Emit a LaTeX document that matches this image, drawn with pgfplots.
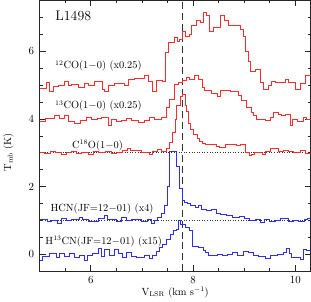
\documentclass[border=0pt]{standalone}
\usepackage{pgfplots}
\pgfplotsset{compat=1.18}
\definecolor{sred}{RGB}{250,45,45}
\definecolor{sblue}{RGB}{45,45,245}
\begin{document}
\begin{tikzpicture}
\begin{axis}[
  scale only axis, width=272.5bp, height=272.5bp,
  xmin=5, xmax=10.3, ymin=-0.5, ymax=7.5,
  xtick={6,8,10}, ytick={0,2,4,6},
  minor xtick={5,5.5,...,10.5},
  minor ytick={-0.5,0,...,7.5},
  tick align=inside, tick pos=both,
  major tick length=6bp, minor tick length=3bp,
  axis line style={line width=0.8pt, black!85},
  every tick/.style={black!85, line width=0.6pt},
  tick label style={font=\fontsize{10.5}{12}\selectfont},
  xticklabel style={yshift=-2bp},
  yticklabel style={xshift=-2bp},
  xlabel={V$_{\rm LSR}$ (km s$^{-1}$)},
  ylabel={T$_{\rm mb}$ (K)},
  label style={font=\fontsize{10.5}{12}\selectfont},
  xlabel style={at={(axis description cs:0.5,0)}, anchor=center, yshift=-21bp},
  ylabel style={at={(axis description cs:-0.115,0.44)}, anchor=center, rotate=0},
  clip=true,
]
% reference lines
\addplot[black!80, dashed, dash pattern=on 7bp off 4bp, line width=0.7pt] coordinates {(7.8,-0.5) (7.8,7.5)};
\addplot[black!80, dotted, line width=0.6pt] coordinates {(5,3) (10.3,3)};
\addplot[black!80, dotted, line width=0.6pt] coordinates {(5,1) (10.3,1)};
% 12CO
\addplot[const plot, sred, line width=0.7pt] coordinates {
(5.00,4.90)(5.13,5.08)(5.19,4.82)(5.27,4.95)(5.37,5.00)(5.48,5.12)(5.56,4.98)(5.62,5.02)(5.75,4.94)(5.87,5.06)(5.96,5.00)(6.06,5.12)(6.22,4.88)(6.27,4.80)(6.35,5.00)(6.47,5.04)(6.66,5.00)(6.74,5.18)(6.85,5.20)(7.05,5.28)(7.12,5.10)(7.20,4.80)(7.28,5.15)(7.40,5.10)(7.45,5.97)(7.51,6.26)(7.64,6.40)(7.70,6.30)(7.74,6.35)(7.80,6.60)(7.85,6.45)(7.92,6.50)(7.97,6.75)(8.06,6.90)(8.15,6.85)(8.21,7.15)(8.27,7.05)(8.31,6.60)(8.40,6.70)(8.54,7.05)(8.62,6.90)(8.69,6.75)(8.93,6.65)(8.98,6.45)(9.02,6.00)(9.08,5.70)(9.12,5.40)(9.22,5.47)(9.31,5.08)(9.37,4.88)(9.47,5.00)(9.53,5.12)(9.62,5.08)(9.80,5.18)(9.86,5.08)(10.01,4.88)(10.09,5.05)(10.20,5.30)(10.30,5.30)};
% 13CO
\addplot[const plot, sred, line width=0.7pt] coordinates {
(5.00,3.92)(5.11,4.02)(5.28,4.10)(5.38,4.02)(5.48,4.12)(5.57,3.94)(5.67,3.88)(5.79,3.96)(5.92,4.06)(6.02,4.00)(6.12,4.03)(6.21,4.05)(6.35,3.80)(6.41,4.00)(6.50,3.92)(6.60,3.97)(6.70,4.02)(6.79,3.97)(6.93,3.90)(7.05,3.97)(7.14,4.05)(7.24,4.00)(7.38,4.05)(7.47,4.34)(7.53,4.58)(7.63,5.03)(7.71,5.09)(7.80,5.15)(7.86,5.23)(7.92,5.18)(8.02,5.30)(8.11,5.18)(8.19,4.94)(8.23,4.84)(8.35,4.76)(8.48,4.68)(8.54,4.84)(8.64,4.83)(8.73,4.80)(8.89,4.70)(8.95,4.55)(9.04,4.33)(9.14,4.20)(9.18,4.10)(9.24,4.00)(9.41,3.97)(9.51,4.05)(9.57,4.20)(9.66,4.15)(9.72,4.10)(9.80,4.15)(9.90,3.82)(9.95,4.00)(10.05,3.94)(10.15,4.06)(10.22,4.00)(10.30,4.00)};
% C18O
\addplot[const plot, sred, line width=0.7pt] coordinates {
(5.00,3.02)(5.10,2.98)(5.20,3.04)(5.30,3.00)(5.42,2.96)(5.52,3.02)(5.62,3.05)(5.72,2.98)(5.82,3.02)(5.95,2.96)(6.05,3.03)(6.15,3.00)(6.28,3.05)(6.40,2.98)(6.50,3.02)(6.62,3.06)(6.72,3.12)(6.78,3.08)(6.98,3.00)(7.14,2.95)(7.20,3.04)(7.30,3.10)(7.38,3.04)(7.47,3.12)(7.53,3.30)(7.59,3.60)(7.65,4.00)(7.68,4.40)(7.76,4.68)(7.80,4.74)(7.84,4.40)(7.86,4.22)(7.90,3.88)(7.95,3.70)(8.01,3.55)(8.08,3.42)(8.12,3.34)(8.18,3.29)(8.25,3.26)(8.45,3.20)(8.52,3.15)(8.64,3.24)(8.73,3.26)(8.84,3.22)(8.93,3.24)(9.02,3.00)(9.10,2.93)(9.14,2.96)(9.20,3.00)(9.35,2.95)(9.41,3.04)(9.51,3.12)(9.66,3.05)(9.76,3.08)(9.86,3.05)(9.96,3.00)(10.10,3.06)(10.20,2.98)(10.30,2.98)};
% HCN
\addplot[const plot, sblue, line width=0.7pt] coordinates {
(5.00,1.03)(5.16,0.97)(5.23,1.02)(5.35,0.93)(5.42,1.06)(5.52,1.00)(5.62,1.03)(5.77,1.10)(5.83,1.03)(5.96,0.99)(6.14,1.06)(6.27,1.15)(6.33,1.03)(6.50,0.99)(6.60,1.09)(6.70,1.00)(6.79,1.03)(6.98,0.99)(7.10,1.03)(7.18,0.92)(7.24,1.02)(7.30,1.10)(7.38,1.20)(7.44,1.44)(7.50,2.00)(7.54,3.03)(7.67,2.60)(7.73,1.94)(7.79,1.60)(7.83,1.55)(7.89,1.50)(7.95,1.44)(8.05,1.40)(8.10,1.44)(8.17,1.34)(8.26,1.30)(8.36,1.33)(8.45,1.22)(8.54,1.18)(8.66,1.14)(8.76,1.10)(8.91,1.12)(9.01,1.05)(9.11,1.00)(9.21,1.03)(9.31,0.96)(9.40,1.03)(9.50,0.97)(9.61,1.01)(9.71,1.05)(9.86,0.98)(9.96,1.00)(10.06,0.98)(10.18,1.03)(10.24,1.06)(10.30,1.06)};
% H13CN
\addplot[const plot, sblue, line width=0.7pt] coordinates {
(5.00,-0.18)(5.06,-0.06)(5.19,0.02)(5.33,-0.08)(5.39,0.03)(5.48,-0.06)(5.58,0.03)(5.68,-0.09)(5.77,-0.04)(5.87,-0.18)(5.93,-0.04)(6.04,0.03)(6.14,0.18)(6.21,-0.06)(6.27,0.14)(6.37,-0.02)(6.47,0.14)(6.53,0.03)(6.62,-0.08)(6.70,0.05)(6.80,-0.06)(6.90,-0.10)(7.05,-0.04)(7.14,-0.13)(7.20,-0.02)(7.28,0.10)(7.34,0.20)(7.40,0.30)(7.47,0.45)(7.55,0.60)(7.61,0.72)(7.67,0.75)(7.71,1.00)(7.76,0.88)(7.84,0.80)(7.92,0.72)(7.98,0.25)(8.11,0.20)(8.21,0.12)(8.25,0.06)(8.29,-0.03)(8.48,-0.01)(8.58,-0.03)(8.67,0.00)(8.77,0.05)(8.87,-0.02)(8.98,0.09)(9.08,0.05)(9.18,-0.02)(9.28,-0.05)(9.41,-0.12)(9.51,-0.04)(9.64,0.00)(9.76,0.05)(9.82,0.18)(9.88,0.02)(9.93,-0.10)(10.03,-0.08)(10.09,-0.15)(10.15,0.15)(10.22,0.12)(10.30,0.12)};
% labels
\node[anchor=west, font=\fontsize{14}{16}\selectfont] at (axis cs:5.24,7.03) {L1498};
\node[anchor=west, font=\fontsize{10.5}{12}\selectfont, inner sep=0pt] at (axis cs:5.30,5.56) {$^{12}$CO(1$-$0) (x0.25)};
\node[anchor=west, font=\fontsize{10.5}{12}\selectfont, inner sep=0pt] at (axis cs:5.30,4.38) {$^{13}$CO(1$-$0) (x0.25)};
\node[anchor=west, font=\fontsize{10.5}{12}\selectfont, inner sep=0pt] at (axis cs:5.63,3.22) {C$^{18}$O(1$-$0)};
\node[anchor=west, font=\fontsize{10.5}{12}\selectfont, inner sep=0pt] at (axis cs:5.21,1.35) {HCN(JF=12$-$01) (x4)};
\node[anchor=west, font=\fontsize{10.5}{12}\selectfont, inner sep=0pt] at (axis cs:5.11,0.38) {H$^{13}$CN(JF=12$-$01) (x15)};
\end{axis}
\end{tikzpicture}
\end{document}
